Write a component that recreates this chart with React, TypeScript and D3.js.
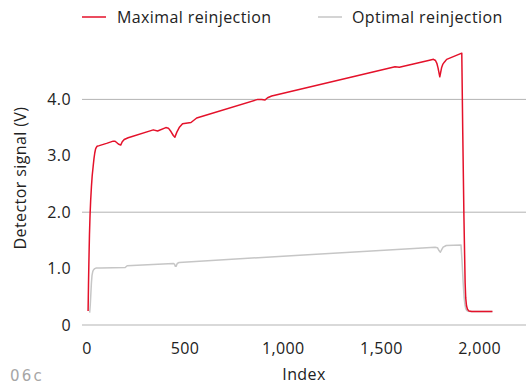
import React from "react";
import * as d3 from "d3";

const maxIdx = [6, 8, 10, 13, 16, 19, 23, 27, 32, 36, 40, 44, 48, 52, 63, 100, 134, 142, 150, 160, 172, 180, 190, 210, 338, 360, 402, 415, 428, 440, 448, 458, 470, 487, 530, 559, 870, 890, 907, 920, 941, 1569, 1591, 1739, 1765, 1775, 1782, 1788, 1793, 1797, 1801, 1806, 1812, 1820, 1832, 1909, 1914, 1920, 1926, 1929, 1933, 1938, 1945, 1960, 2065];
const maxVal = [0.25, 0.7, 1.1, 1.6, 1.95, 2.2, 2.45, 2.65, 2.82, 2.95, 3.05, 3.12, 3.15, 3.17, 3.18, 3.22, 3.26, 3.26, 3.24, 3.21, 3.19, 3.25, 3.29, 3.32, 3.46, 3.44, 3.5, 3.49, 3.43, 3.36, 3.33, 3.42, 3.5, 3.57, 3.59, 3.67, 4.0, 4.0, 3.99, 4.03, 4.06, 4.58, 4.57, 4.69, 4.71, 4.69, 4.64, 4.56, 4.47, 4.4, 4.47, 4.56, 4.62, 4.66, 4.71, 4.82, 3.4, 1.9, 0.75, 0.48, 0.34, 0.28, 0.25, 0.24, 0.24];

const optIdx = [14, 17, 20, 23, 26, 30, 34, 40, 48, 70, 195, 205, 440, 446, 450, 454, 460, 470, 1773, 1785, 1793, 1800, 1806, 1814, 1830, 1905, 1910, 1916, 1921, 1925, 1929, 1934, 1940, 1955, 2065];
const optVal = [0.22, 0.35, 0.55, 0.75, 0.88, 0.95, 0.98, 1.0, 1.01, 1.01, 1.02, 1.05, 1.09, 1.08, 1.04, 1.04, 1.09, 1.11, 1.38, 1.37, 1.32, 1.29, 1.33, 1.38, 1.41, 1.42, 1.15, 0.75, 0.48, 0.36, 0.29, 0.26, 0.245, 0.24, 0.24];

const xTicks = [0, 500, 1000, 1500, 2000];
const yLabels = [0, 1, 2, 3, 4];
const yGrid = [0, 2, 4];
const seriesNames = ["Maximal reinjection", "Optimal reinjection"];

const RED = "#e4112a";
const GRAY = "#c6c6c6";
const FONT = "'Open Sans', sans-serif";
const FS = 16;
const LS = 0.4;

export default function App() {
  const x = d3.scaleLinear().domain([-25, 2236]).range([82, 526]);
  const y = d3.scaleLinear().domain([0, 5]).range([325, 43]);
  const line = d3
    .line<[number, number]>()
    .x((d) => x(d[0]))
    .y((d) => y(d[1]))
    .curve(d3.curveLinear);
  const maxData = maxIdx.map((v, i) => [v, maxVal[i]] as [number, number]);
  const optData = optIdx.map((v, i) => [v, optVal[i]] as [number, number]);
  const fmtX = d3.format(",");
  const fmtY = (v: number) => (v === 0 ? "0" : d3.format(".1f")(v));

  return (
    <svg
      width={526}
      height={385}
      style={{ position: "absolute", left: 0, top: 0, background: "#fff" }}
      fontFamily={FONT}
      letterSpacing={LS}
    >
      {yGrid.map((g) => (
        <line key={g} x1={82} x2={526} y1={y(g)} y2={y(g)} stroke="#b3b3b3" strokeWidth={1} />
      ))}
      {yLabels.map((v) => (
        <text key={v} x={71} y={y(v)} dy="0.35em" textAnchor="end" fontSize={FS} fill="#222">
          {fmtY(v)}
        </text>
      ))}
      {xTicks.map((v) => (
        <text key={v} x={x(v)} y={354} textAnchor="middle" fontSize={FS} fill="#222">
          {fmtX(v)}
        </text>
      ))}
      <text x={304} y={380} textAnchor="middle" fontSize={FS} fill="#222">
        Index
      </text>
      <text
        transform={`translate(26,178) rotate(-90)`}
        textAnchor="middle"
        fontSize={FS}
        fill="#222"
      >
        Detector signal (V)
      </text>
      <text x={10} y={380.5} fontSize={15} letterSpacing={2.2} fontFamily="'DejaVu Sans', sans-serif" fill="#a6a6a6">
        06c
      </text>
      <path d={line(optData) || ""} fill="none" stroke={GRAY} strokeWidth={1.5} strokeLinejoin="round" />
      <path d={line(maxData) || ""} fill="none" stroke={RED} strokeWidth={1.5} strokeLinejoin="round" />
      <g>
        <line x1={82} x2={106} y1={17} y2={17} stroke={RED} strokeWidth={1.5} />
        <text x={117} y={17} dy="0.35em" fontSize={FS} fill="#222">
          {seriesNames[0]}
        </text>
        <line x1={318} x2={342} y1={17} y2={17} stroke={GRAY} strokeWidth={1.5} />
        <text x={352} y={17} dy="0.35em" fontSize={FS} fill="#222">
          {seriesNames[1]}
        </text>
      </g>
    </svg>
  );
}
